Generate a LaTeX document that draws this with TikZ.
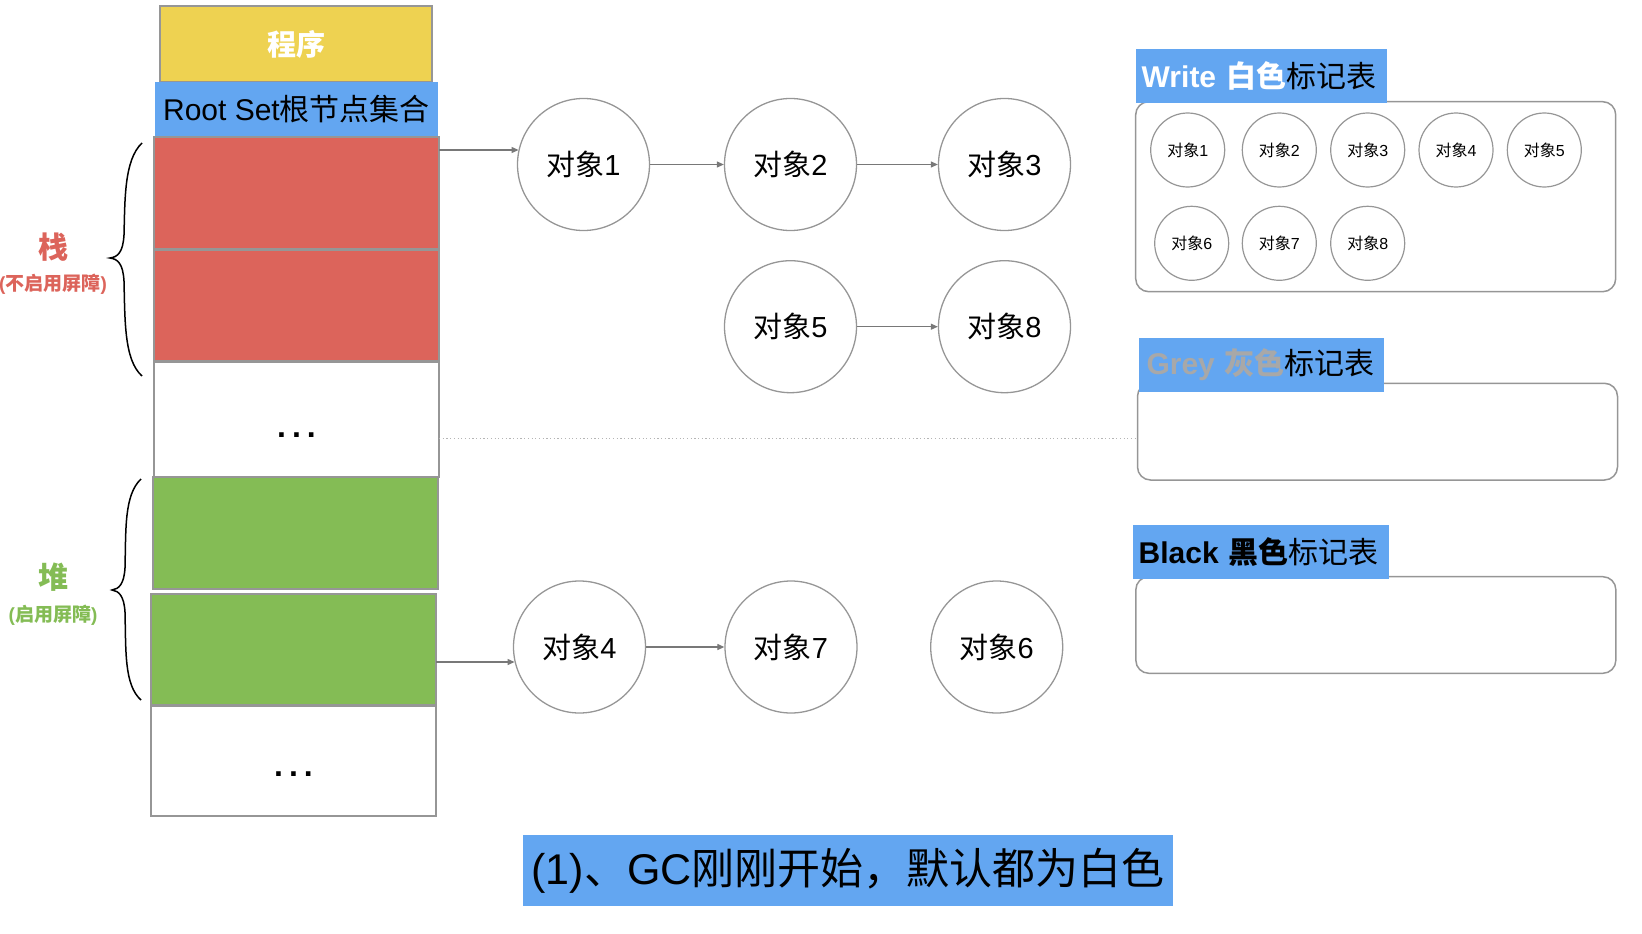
\documentclass[tikz,border=0pt]{standalone}
\usepackage{fontspec}
\setmainfont{Liberation Sans}
\newfontfamily\zhfont{Noto Sans CJK SC}
\newcommand\zh[1]{{\zhfont #1}}
\newcommand\fs[1]{\fontsize{#1}{#1}\selectfont}
\usetikzlibrary{arrows.meta}
\definecolor{cyel}{RGB}{238,210,81}
\definecolor{cblue}{RGB}{99,166,241}
\definecolor{cred}{RGB}{220,100,91}
\definecolor{cgreen}{RGB}{132,188,85}
\definecolor{cedge}{RGB}{150,150,150}
\definecolor{carrow}{RGB}{120,120,120}
\definecolor{cgreytxt}{RGB}{168,168,168}
\begin{document}
\begin{tikzpicture}[x=1pt,y=-1pt,
  blk/.style={draw=cedge, line width=1.5pt, minimum width=285pt, inner sep=0pt, outer sep=0pt},
  obj/.style={circle, draw=cedge, line width=1.3pt, minimum size=132pt, inner sep=0pt, font=\fs{29}},
  sobj/.style={circle, draw=cedge, line width=1.2pt, minimum size=74pt, inner sep=0pt, font=\fs{16}},
  arr/.style={draw=carrow, line width=1.2pt, -{Triangle[length=7pt,width=6pt]}},
  tbl/.style={draw=cedge, line width=1.5pt, rounded corners=13pt, inner sep=0pt, minimum width=480pt},
  lbl/.style={fill=cblue, inner xsep=6pt, inner ysep=0pt, font=\fs{30}, align=left},
  brace/.style={draw=black, line width=1.5pt},
  dotsty/.style={font=\fs{32}\bfseries, inner sep=0pt},
]
\useasboundingbox (0,0) rectangle (1642,934);

% ---- left stack ----
\node[blk, fill=cyel, minimum width=272pt, minimum height=76pt, text=white, font=\fs{29}\bfseries] (prog) at (296,44) {\zh{程序}};
\node[fill=cblue, minimum width=283pt, minimum height=55pt, inner sep=0pt, font=\fs{30}] (root) at (296.5,109.5) {Root Set\zh{根节点集合}};
\node[blk, fill=cred, minimum height=112pt] (red1) at (296.5,193) {};
\node[blk, fill=cred, minimum height=111pt] (red2) at (296.5,305.5) {};
\node[blk, fill=white, minimum height=115pt] (white1) at (296.5,419.5) {};
\node[dotsty] (dots1) at (296.5,435) {.\hspace{6pt}.\hspace{6pt}.};
\node[blk, fill=cgreen, minimum height=112pt] (green1) at (295.5,533) {};
\node[blk, fill=cgreen, minimum height=111pt] (green2) at (293.5,649.5) {};
\node[blk, fill=white, minimum height=110pt] (white2) at (293.5,761) {};
\node[dotsty] (dots2) at (293.5,774) {.\hspace{6pt}.\hspace{6pt}.};

% ---- braces and side labels ----
\draw[brace] (142,143) .. controls (124,160) and (125,200) .. (124,235)
  .. controls (123,252) and (118,257) .. (110,258)
  .. controls (118,259) and (123,264) .. (124,281)
  .. controls (125,320) and (124,360) .. (142,376);
\draw[brace] (141,479) .. controls (124,495) and (126,530) .. (125,568)
  .. controls (124,584) and (119,589) .. (112,590)
  .. controls (119,591) and (124,596) .. (125,612)
  .. controls (126,650) and (124,685) .. (141,700);
\node[text=cred, font=\fs{30}\bfseries] (zhan) at (53,247) {\zh{栈}};
\node[text=cred, font=\fs{19}\bfseries] (zhannote) at (53,284) {(\zh{不启用屏障})};
\node[text=cgreen, font=\fs{30}\bfseries] (dui) at (53,577) {\zh{堆}};
\node[text=cgreen, font=\fs{19}\bfseries] (duinote) at (53,615) {(\zh{启用屏障})};

% ---- object graph ----
\node[obj] (o1) at (583.5,164.5) {\zh{对象}1};
\node[obj] (o2) at (790.5,164.5) {\zh{对象}2};
\node[obj] (o3) at (1004.5,164.5) {\zh{对象}3};
\node[obj] (o5) at (790.5,326.7) {\zh{对象}5};
\node[obj] (o8) at (1004.5,326.7) {\zh{对象}8};
\node[obj] (o4) at (579.5,647) {\zh{对象}4};
\node[obj] (o7) at (791,647) {\zh{对象}7};
\node[obj] (o6) at (996.7,647) {\zh{对象}6};

\coordinate (a1) at ([yshift=43pt]red1.east);
\draw[arr] (a1) -- (a1 -| o1.167);
\draw[arr] (o1) -- (o2);
\draw[arr] (o2) -- (o3);
\draw[arr] (o5) -- (o8);
\coordinate (a4) at ([yshift=-12.5pt]green2.east);
\draw[arr] (a4) -- (a4 -| o4.193);
\draw[arr] (o4) -- (o7);

% ---- mark tables ----
\node[tbl, minimum height=190pt] (wbox) at (1375.7,196.7) {};
\node[lbl, text width=239pt, minimum height=53.7pt] (wlabel) at (1261.2,75.85)
  {\textcolor{white}{\textbf{Write} \zh{\bfseries 白色}}\zh{标记表}};
\node[sobj] (s1) at (1187.7,150) {\zh{对象}1};
\node[sobj] (s2) at (1279.3,150) {\zh{对象}2};
\node[sobj] (s3) at (1367.7,150) {\zh{对象}3};
\node[sobj] (s4) at (1456,150) {\zh{对象}4};
\node[sobj] (s5) at (1544.3,150) {\zh{对象}5};
\node[sobj] (s6) at (1191.7,243.3) {\zh{对象}6};
\node[sobj] (s7) at (1279.3,243.3) {\zh{对象}7};
\node[sobj] (s8) at (1367.7,243.3) {\zh{对象}8};

\node[tbl, minimum height=96.7pt] (gbox) at (1377.5,431.65) {};
\node[lbl, text width=233pt, minimum height=53.4pt] (glabel) at (1261.5,365)
  {\hspace*{1.5pt}\textcolor{cgreytxt}{\textbf{Grey} \zh{\bfseries 灰色}}\zh{标记表}};

\node[tbl, minimum height=96.6pt] (bbox) at (1375.85,625) {};
\node[lbl, text width=244.6pt, minimum height=54pt] (blabel) at (1261,552)
  {\textbf{Black} \zh{\bfseries 黑色}\zh{标记表}};

% ---- dotted separator ----
\coordinate (dl) at ([yshift=-18.5pt]white1.east);
\draw[draw=cedge!70, line width=1pt, dash pattern=on 1.2pt off 2.5pt] (dl) -- (dl -| gbox.west);

% ---- caption ----
\node[fill=cblue, minimum width=650.7pt, minimum height=71pt, inner sep=0pt, font=\fs{43}] (cap) at (848,870.5)
  {(1)\zh{、}GC\zh{刚刚开始，默认都为白色}};
\end{tikzpicture}
\end{document}
